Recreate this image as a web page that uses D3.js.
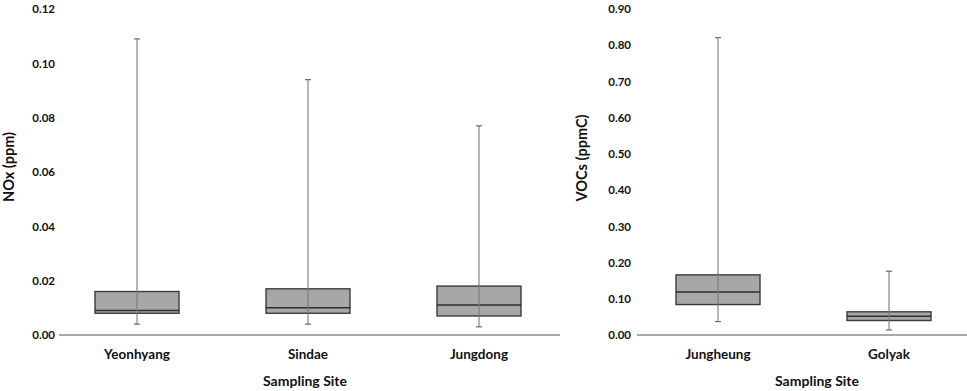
<!DOCTYPE html>
<html><head><meta charset="utf-8">
<script src="https://cdn.jsdelivr.net/npm/d3@7"></script>
<style>body{margin:0;background:#fff}svg{display:block}text{font-family:Lato,"Open Sans",sans-serif;font-weight:bold;fill:#111}</style>
</head><body><svg id="c" width="967" height="391"></svg>
<script>
// Left panel: NOx (ppm)
const noxSites = ["Yeonhyang", "Sindae", "Jungdong"];
const noxMin = [0.004, 0.004, 0.003];
const noxQ1 = [0.008, 0.008, 0.007];
const noxMedian = [0.009, 0.010, 0.011];
const noxQ3 = [0.016, 0.017, 0.018];
const noxMax = [0.109, 0.094, 0.077];
const noxTicks = [0, 0.02, 0.04, 0.06, 0.08, 0.10, 0.12];

// Right panel: VOCs (ppmC)
const vocSites = ["Jungheung", "Golyak"];
const vocMin = [0.037, 0.014];
const vocQ1 = [0.084, 0.040];
const vocMedian = [0.119, 0.052];
const vocQ3 = [0.166, 0.064];
const vocMax = [0.821, 0.176];
const vocTicks = [0, 0.1, 0.2, 0.3, 0.4, 0.5, 0.6, 0.7, 0.8, 0.9];

const svg = d3.select("#c");

function panel(cfg) {
  const g = svg.append("g");
  const y = d3.scaleLinear().domain(cfg.domain).range([335, 9]);
  const x = d3.scalePoint().domain(cfg.sites).range(cfg.xRange);
  const ya = d3.axisLeft(y).tickValues(cfg.ticks).tickFormat(d3.format(".2f")).tickSize(0).tickPadding(0);
  const yg = g.append("g").attr("transform", `translate(${cfg.labelX},0)`).call(ya);
  yg.select(".domain").remove();
  yg.selectAll("text").attr("font-size", 11.5).style("font-family", "Lato,sans-serif").attr("font-weight", "bold").attr("fill", "#111");
  g.append("line").attr("x1", cfg.axisX[0]).attr("x2", cfg.axisX[1]).attr("y1", y(0)).attr("y2", y(0))
    .attr("stroke", "#8c8c8c").attr("stroke-width", 1.5);
  const bw = 84, cw = 6;
  const data = cfg.sites.map((s, i) => ({s, min: cfg.min[i], q1: cfg.q1[i], med: cfg.med[i], q3: cfg.q3[i], max: cfg.max[i]}));
  const b = g.selectAll("g.box").data(data).join("g").attr("class", "box");
  b.append("rect").attr("x", d => x(d.s) - bw / 2).attr("width", bw)
    .attr("y", d => y(d.q3)).attr("height", d => y(d.q1) - y(d.q3))
    .attr("fill", "#a6a7a9").attr("stroke", "#3c3c3c").attr("stroke-width", 1.4);
  b.append("line").attr("x1", d => x(d.s) - bw / 2).attr("x2", d => x(d.s) + bw / 2)
    .attr("y1", d => y(d.med)).attr("y2", d => y(d.med)).attr("stroke", "#2e2e2e").attr("stroke-width", 1.5);
  b.append("line").attr("x1", d => x(d.s)).attr("x2", d => x(d.s))
    .attr("y1", d => y(d.max)).attr("y2", d => y(d.min)).attr("stroke", "#7a7a7a").attr("stroke-width", 1.1);
  b.append("line").attr("x1", d => x(d.s) - cw / 2).attr("x2", d => x(d.s) + cw / 2)
    .attr("y1", d => y(d.max)).attr("y2", d => y(d.max)).attr("stroke", "#6a6a6a").attr("stroke-width", 1.2);
  b.append("line").attr("x1", d => x(d.s) - cw / 2).attr("x2", d => x(d.s) + cw / 2)
    .attr("y1", d => y(d.min)).attr("y2", d => y(d.min)).attr("stroke", "#6a6a6a").attr("stroke-width", 1.2);
  g.selectAll("text.cat").data(cfg.sites).join("text").attr("class", "cat")
    .attr("x", d => x(d)).attr("y", 359).attr("text-anchor", "middle").attr("font-size", 13.5).text(d => d);
  g.append("text").attr("x", cfg.titleX).attr("y", 386).attr("text-anchor", "middle").attr("font-size", 14).text("Sampling Site");
  g.append("text").attr("transform", `translate(${cfg.yTitle[0]},${cfg.yTitle[1]}) rotate(-90)`)
    .attr("text-anchor", "middle").attr("font-size", 14.5).text(cfg.yLabel);
}

panel({sites: noxSites, min: noxMin, q1: noxQ1, med: noxMedian, q3: noxQ3, max: noxMax,
  domain: [0, 0.12], ticks: noxTicks, xRange: [137, 479], axisX: [59, 560], labelX: 55,
  titleX: 305, yTitle: [14, 167], yLabel: "NOx (ppm)"});
panel({sites: vocSites, min: vocMin, q1: vocQ1, med: vocMedian, q3: vocQ3, max: vocMax,
  domain: [0, 0.9], ticks: vocTicks, xRange: [718, 889], axisX: [637, 967], labelX: 631,
  titleX: 817, yTitle: [587, 158], yLabel: "VOCs (ppmC)"});
</script></body></html>
